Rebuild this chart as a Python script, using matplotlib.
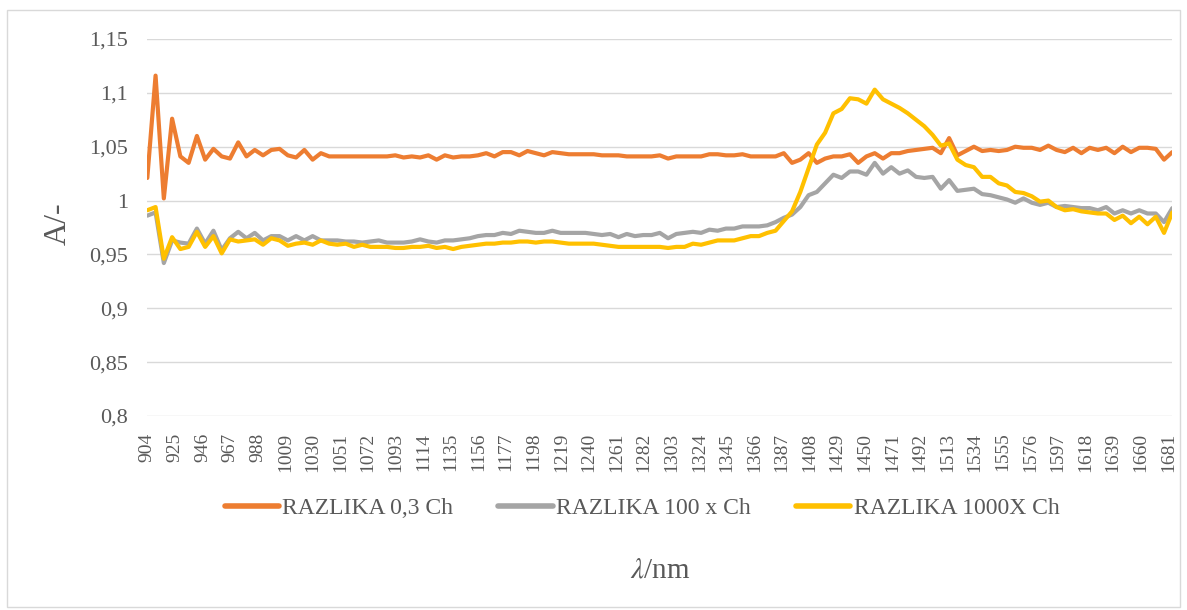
import numpy as np
import matplotlib

matplotlib.use("Agg")
from matplotlib import pyplot as plt
from matplotlib.patches import Rectangle
from matplotlib.ticker import FuncFormatter

# spectrum grid of the instrument (125 points, 904 - 1684 nm)
WL_START = 904
WL_END = 1684

razlika_03 = [
    1.021, 1.116, 1.002, 1.076, 1.041, 1.035, 1.060, 1.038, 1.048, 1.041,
    1.039, 1.054, 1.041, 1.047, 1.042, 1.047, 1.048, 1.042, 1.040, 1.047,
    1.038, 1.044, 1.041, 1.041, 1.041, 1.041, 1.041, 1.041, 1.041, 1.041,
    1.042, 1.040, 1.041, 1.040, 1.042, 1.038, 1.042, 1.040, 1.041, 1.041,
    1.042, 1.044, 1.041, 1.045, 1.045, 1.042, 1.046, 1.044, 1.042, 1.045,
    1.044, 1.043, 1.043, 1.043, 1.043, 1.042, 1.042, 1.042, 1.041, 1.041,
    1.041, 1.041, 1.042, 1.039, 1.041, 1.041, 1.041, 1.041, 1.043, 1.043,
    1.042, 1.042, 1.043, 1.041, 1.041, 1.041, 1.041, 1.044, 1.035, 1.038,
    1.044, 1.035, 1.039, 1.041, 1.041, 1.043, 1.035, 1.041, 1.044, 1.039,
    1.044, 1.044, 1.046, 1.047, 1.048, 1.049, 1.044, 1.058, 1.042, 1.046,
    1.050, 1.046, 1.047, 1.046, 1.047, 1.050, 1.049, 1.049, 1.047, 1.051,
    1.047, 1.045, 1.049, 1.044, 1.049, 1.047, 1.049, 1.044, 1.050, 1.045,
    1.049, 1.049, 1.048, 1.038, 1.045,
]

razlika_100x = [
    0.986, 0.989, 0.942, 0.963, 0.961, 0.960, 0.974, 0.960, 0.972, 0.954,
    0.965, 0.971, 0.965, 0.970, 0.963, 0.967, 0.967, 0.963, 0.967, 0.963,
    0.967, 0.963, 0.963, 0.963, 0.962, 0.962, 0.961, 0.962, 0.963, 0.961,
    0.961, 0.961, 0.962, 0.964, 0.962, 0.961, 0.963, 0.963, 0.964, 0.965,
    0.967, 0.968, 0.968, 0.970, 0.969, 0.972, 0.971, 0.970, 0.970, 0.972,
    0.970, 0.970, 0.970, 0.970, 0.969, 0.968, 0.969, 0.966, 0.969, 0.967,
    0.968, 0.968, 0.970, 0.965, 0.969, 0.970, 0.971, 0.970, 0.973, 0.972,
    0.974, 0.974, 0.976, 0.976, 0.976, 0.977, 0.980, 0.984, 0.987, 0.994,
    1.005, 1.008, 1.016, 1.024, 1.021, 1.027, 1.027, 1.024, 1.035, 1.025,
    1.031, 1.025, 1.028, 1.022, 1.021, 1.022, 1.011, 1.019, 1.009, 1.010,
    1.011, 1.006, 1.005, 1.003, 1.001, 0.998, 1.002, 0.998, 0.996, 0.998,
    0.994, 0.995, 0.994, 0.993, 0.993, 0.991, 0.994, 0.988, 0.991, 0.988,
    0.991, 0.988, 0.988, 0.980, 0.993,
]

razlika_1000x = [
    0.991, 0.994, 0.946, 0.966, 0.955, 0.957, 0.971, 0.957, 0.967, 0.951,
    0.964, 0.962, 0.963, 0.964, 0.959, 0.965, 0.963, 0.958, 0.960, 0.961,
    0.959, 0.963, 0.960, 0.959, 0.960, 0.957, 0.959, 0.957, 0.957, 0.957,
    0.956, 0.956, 0.957, 0.957, 0.958, 0.956, 0.957, 0.955, 0.957, 0.958,
    0.959, 0.960, 0.960, 0.961, 0.961, 0.962, 0.962, 0.961, 0.962, 0.962,
    0.961, 0.960, 0.960, 0.960, 0.960, 0.959, 0.958, 0.957, 0.957, 0.957,
    0.957, 0.957, 0.957, 0.956, 0.957, 0.957, 0.960, 0.959, 0.961, 0.963,
    0.963, 0.963, 0.965, 0.967, 0.967, 0.970, 0.972, 0.981, 0.990, 1.008,
    1.030, 1.052, 1.063, 1.081, 1.085, 1.095, 1.094, 1.090, 1.103, 1.094,
    1.090, 1.086, 1.081, 1.075, 1.069, 1.061, 1.051, 1.053, 1.038, 1.033,
    1.031, 1.022, 1.022, 1.016, 1.014, 1.008, 1.007, 1.004, 0.999, 1.000,
    0.994, 0.991, 0.992, 0.990, 0.989, 0.988, 0.988, 0.982, 0.986, 0.979,
    0.985, 0.978, 0.985, 0.970, 0.989,
]

labels = ["RAZLIKA 0,3 Ch", "RAZLIKA 100 x Ch", "RAZLIKA 1000X Ch"]
colors = ["#ED7D31", "#A5A5A5", "#FFC000"]

# every third point is labelled on the axis, 21 nm apart
tick_wl = list(range(904, 1682, 21))
y_ticks = [0.8, 0.85, 0.9, 0.95, 1.0, 1.05, 1.1, 1.15]

FONT = ["Liberation Serif", "DejaVu Serif"]
TXT = "#595959"


def comma(v, pos=None):
    # decimal comma, like the original spreadsheet
    return f"{v:g}".replace(".", ",")


plt.rcParams["font.family"] = FONT
fig = plt.figure(figsize=(11.87, 6.10), dpi=100)
fig.patches.append(
    Rectangle((7 / 1187, 3 / 610), 1173 / 1187, 597 / 610, transform=fig.transFigure,
              fill=False, edgecolor="#D9D9D9", linewidth=1.0)
)

ax = fig.add_axes([147.3 / 1187, 1 - 416 / 610, 1025 / 1187, 377 / 610])
wl = np.linspace(WL_START, WL_END, len(razlika_03))

for series, lab, col in zip([razlika_03, razlika_100x, razlika_1000x], labels, colors):
    ax.plot(wl, series, color=col, lw=3.0, label=lab,
            solid_joinstyle="round", solid_capstyle="round")

ax.set_xlim(WL_START, WL_END)
ax.set_ylim(0.8, 1.15)
ax.set_yticks(y_ticks)
ax.yaxis.set_major_formatter(FuncFormatter(comma))
ax.set_xticks(tick_wl)
ax.set_xticklabels([str(t) for t in tick_wl], rotation=90)
ax.tick_params(axis="both", length=0, labelcolor=TXT)
ax.tick_params(axis="y", pad=14, labelsize=16)
ax.tick_params(axis="x", pad=12, labelsize=14)
ax.grid(axis="y", color="#D9D9D9", lw=1.0)
ax.set_axisbelow(True)
for s in ax.spines.values():
    s.set_visible(False)

fig.text(58 / 1187, 1 - 224 / 610, "A/-", rotation=90, ha="center", va="center",
         fontsize=23, color=TXT)
fig.text(660 / 1187, 1 - 570 / 610, r"$\lambda$/nm", ha="center", va="center",
         fontsize=21, color=TXT, math_fontfamily="stix")

leg = fig.legend(loc="center", bbox_to_anchor=(642 / 1187, 1 - 508 / 610), ncol=3,
                 frameon=False, fontsize=17, handlelength=2.3, handletextpad=0.15,
                 columnspacing=1.9, labelcolor=TXT)
for line in leg.get_lines():
    line.set_linewidth(4)

fig.savefig("out.png", dpi=100)
